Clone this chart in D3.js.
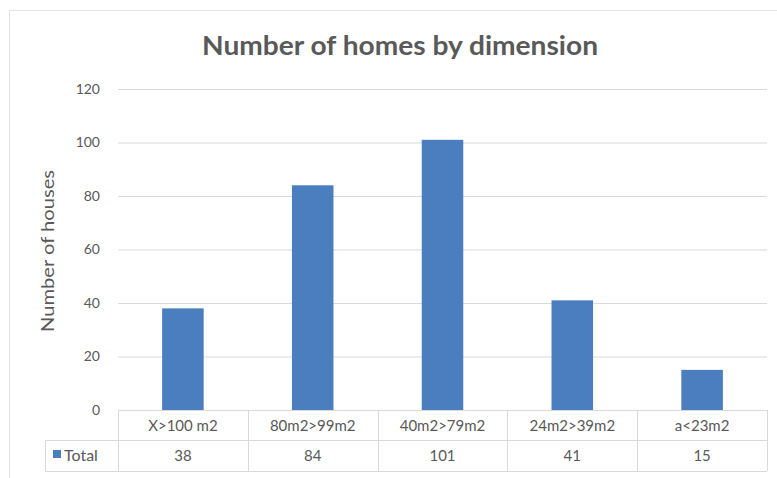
<!DOCTYPE html>
<html><head><meta charset="utf-8">
<script src="https://cdn.jsdelivr.net/npm/d3@7"></script>
<style>body{margin:0;background:#fff;} svg{display:block;}</style>
</head><body>
<svg id="c" width="777" height="478"></svg>
<script>
const categories = ["X>100 m2", "80m2>99m2", "40m2>79m2", "24m2>39m2", "a<23m2"];
const totals = [38, 84, 101, 41, 15];
const yTicks = [0, 20, 40, 60, 80, 100, 120];
const seriesName = "Total";
const title = "Number of homes by dimension";
const yTitle = "Number of houses";

const svg = d3.select("#c");
const font = "Lato, 'Open Sans', sans-serif";
const txt = "#595959";
const grid = "#d9d9d9";
const barColor = "#4a7ebf";

// chart frame
svg.append("rect").attr("x", 9.5).attr("y", 10.5).attr("width", 790).attr("height", 480)
  .attr("fill", "#fff").attr("stroke", "#e3e3e3");

const x0 = 118, x1 = 767, yTop = 89, yBot = 410;
const x = d3.scaleBand().domain(categories).range([x0, x1]).paddingInner(0.68).paddingOuter(0.34);
const xb = d3.scaleBand().domain(categories).range([x0, x1]);
const y = d3.scaleLinear().domain([0, 120]).range([yBot, yTop]);

// gridlines + y ticks
const yAxis = d3.axisLeft(y).tickValues(yTicks).tickSize(-(x1 - x0)).tickPadding(18);
const ga = svg.append("g").attr("transform", `translate(${x0},0)`).call(yAxis);
ga.select(".domain").remove();
ga.selectAll(".tick line").attr("stroke", grid).attr("stroke-width", 1);
ga.selectAll(".tick text").attr("fill", txt).style("font-family", font).style("font-size", "14px");

// bars
svg.append("g").selectAll("rect").data(totals).join("rect")
  .attr("x", (d, i) => x(categories[i]))
  .attr("width", x.bandwidth())
  .attr("y", d => y(d))
  .attr("height", d => yBot - y(d))
  .attr("fill", barColor);

// data table
const rowMid = 440, tableBot = 471, tableLeft = 45;
const t = svg.append("g");
t.append("line").attr("x1", x0).attr("x2", x1).attr("y1", yBot + 0.5).attr("y2", yBot + 0.5).attr("stroke", grid);
t.append("line").attr("x1", tableLeft).attr("x2", x1).attr("y1", rowMid + 0.5).attr("y2", rowMid + 0.5).attr("stroke", grid);
t.append("line").attr("x1", tableLeft).attr("x2", x1).attr("y1", tableBot + 0.5).attr("y2", tableBot + 0.5).attr("stroke", grid);
t.append("line").attr("x1", tableLeft + 0.5).attr("x2", tableLeft + 0.5).attr("y1", rowMid).attr("y2", tableBot).attr("stroke", grid);
const bounds = categories.map(c => xb(c)).concat([x1]);
t.selectAll("line.v").data(bounds).join("line").attr("class", "v")
  .attr("x1", d => Math.round(d) + 0.5).attr("x2", d => Math.round(d) + 0.5)
  .attr("y1", yBot).attr("y2", tableBot).attr("stroke", grid);

const xAxis = d3.axisBottom(xb).tickSize(0).tickPadding(10);
const gx = svg.append("g").attr("transform", `translate(0,${yBot})`).call(xAxis);
gx.select(".domain").remove();
gx.selectAll(".tick text").attr("fill", txt).style("font-family", font).style("font-size", "15px");

t.selectAll("text.val").data(totals).join("text").attr("class", "val")
  .attr("x", (d, i) => xb(categories[i]) + xb.bandwidth() / 2)
  .attr("y", 461).attr("text-anchor", "middle")
  .attr("fill", txt).style("font-family", font).style("font-size", "15px")
  .text(d => d);

t.append("rect").attr("x", 53).attr("y", 450).attr("width", 8).attr("height", 8).attr("fill", barColor);
t.append("text").attr("x", 64).attr("y", 461).attr("fill", txt)
  .style("font-family", font).style("font-size", "16px").text(seriesName);

// titles
svg.append("text").attr("x", 400).attr("y", 55).attr("text-anchor", "middle")
  .attr("fill", txt).style("font-family", font).style("font-size", "27px").style("font-weight", "700")
  .attr("textLength", 396).attr("lengthAdjust", "spacingAndGlyphs")
  .text(title);
svg.append("text").attr("transform", `translate(54,251) rotate(-90)`)
  .attr("text-anchor", "middle").attr("fill", txt)
  .style("font-family", font).style("font-size", "18px")
  .attr("textLength", 162).attr("lengthAdjust", "spacingAndGlyphs")
  .text(yTitle);
</script>
</body></html>
